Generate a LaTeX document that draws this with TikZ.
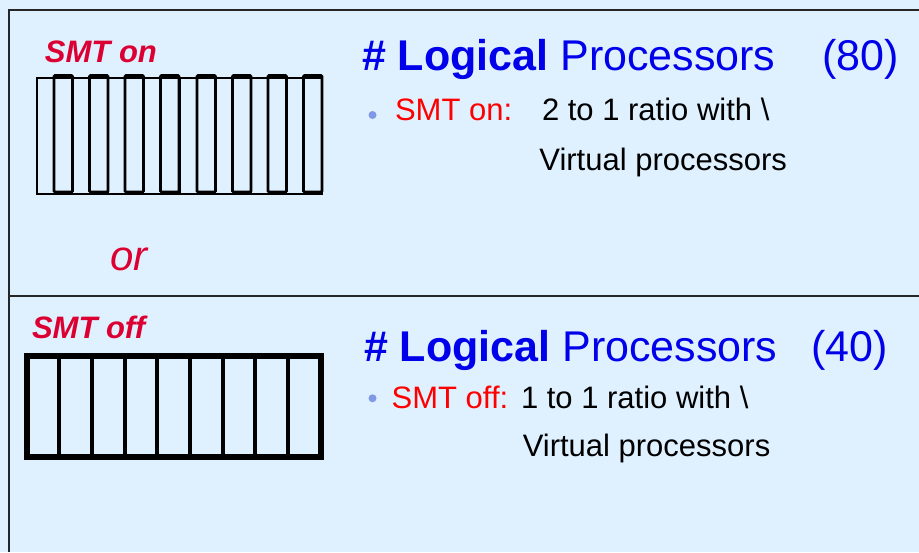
\documentclass[tikz,border=0pt]{standalone}
\usepackage{fontspec}
\setmainfont{Liberation Sans}
\definecolor{bgblue}{RGB}{223,240,254}
\definecolor{crim}{RGB}{220,0,50}
\definecolor{headblue}{RGB}{0,0,235}
\definecolor{bulletred}{RGB}{255,0,0}
\definecolor{bulletdot}{RGB}{128,153,230}
\tikzset{
  frameline/.style={line width=2.8pt, black!85},
  lbl/.style={anchor=base west, inner sep=0pt, outer sep=0pt},
  smtlabel/.style={lbl, text=crim, font=\fontsize{31}{36}\selectfont\bfseries\itshape},
  heading/.style={lbl, text=headblue, font=\fontsize{43}{50}\selectfont},
  bodytext/.style={lbl, font=\fontsize{31}{36}\selectfont},
  corebox/.style={draw=black, line width=1.5pt},
  threadbox/.style={draw=black, line width=2.6pt, rounded corners=1pt},
  offcell/.style={draw=black, line width=4pt},
  offframe/.style={draw=black, line width=6pt},
  dot/.style={circle, fill=bulletdot, inner sep=0pt, minimum size=8pt}
}
\begin{document}
\begin{tikzpicture}[x=1pt,y=-1pt]
\useasboundingbox (0,0) rectangle (919,552);
\fill[bgblue] (0,0) rectangle (919,552);
% frame lines
\coordinate (tl) at (8,10);
\coordinate (tr) at (919,10);
\coordinate (bl) at (9,552);
\coordinate (ml) at (9,296);
\coordinate (mr) at (919,296);
\draw[frameline] (tr) -- (tl);
\draw[frameline] (9,10) -- (bl);
\draw[frameline] (ml) -- (mr);

% SMT on
\node[smtlabel] (smton) at (45,62) {SMT on};
\foreach \gx in {37,180}{
  \foreach \i in {0,1,2,3}{
    \pgfmathsetmacro{\xo}{\gx+35.5*\i}
    \draw[corebox] (\xo,78) rectangle (\xo+35.5,194);
  }
  \foreach \i in {0,1,2,3}{
    \pgfmathsetmacro{\xo}{\gx+35.5*\i}
    \draw[threadbox] (\xo+17,75.5) rectangle (\xo+35.5,192);
  }
}

\node[lbl, text=crim, font=\fontsize{42}{48}\selectfont\itshape] (or) at (110,270) {or};

% SMT off
\node[smtlabel] (smtoff) at (32,338) {SMT off};
\foreach \k in {1,...,8}{
  \pgfmathsetmacro{\xv}{26.5+32.667*\k}
  \draw[offcell] (\xv,355.5) -- (\xv,457);
}
\draw[offframe] (26.5,355.5) rectangle (320.5,457);

% top text
\node[heading] (h1) at (362,70.7) {\textbf{\# Logical} Processors};
\node[heading] (h1n) at (822,70.7) {(80)};
\node[dot] (d1) at (372.5,115) {};
\node[bodytext, text=bulletred] (s1) at (395,120.7) {SMT on:};
\node[bodytext] (t1) at (542,120.7) {2 to 1 ratio with \textbackslash};
\node[bodytext] (v1) at (539.4,170) {Virtual processors};

% bottom text
\node[heading] (h2) at (364,361.7) {\textbf{\# Logical} Processors};
\node[heading] (h2n) at (811,361.7) {(40)};
\node[dot] (d2) at (372.5,398.3) {};
\node[bodytext, text=bulletred] (s2) at (391.7,408.3) {SMT off:};
\node[bodytext] (t2) at (521,408.3) {1 to 1 ratio with \textbackslash};
\node[bodytext] (v2) at (522.8,456.7) {Virtual processors};
\end{tikzpicture}
\end{document}
